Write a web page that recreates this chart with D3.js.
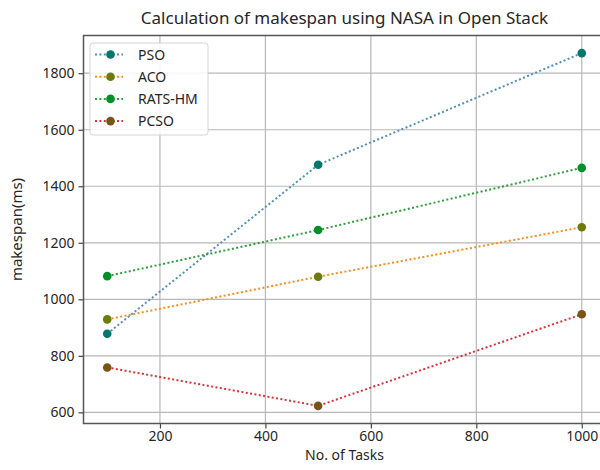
<!DOCTYPE html>
<html>
<head>
<meta charset="utf-8">
<script src="https://cdn.jsdelivr.net/npm/d3@7"></script>
<style>
  html, body { margin: 0; padding: 0; background: #fff; }
  svg { display: block; }
  text { font-family: "Noto Sans", "Open Sans", sans-serif; fill: #262626; }
</style>
</head>
<body>
<svg id="chart" width="600" height="470"></svg>
<script>
// Number of tasks on the x axis
const tasks = [100, 500, 1000];

// Makespan (ms) per algorithm
const pso    = [878, 1476, 1871];
const aco    = [929, 1080, 1255];
const ratsHm = [1082, 1245, 1465];
const pcso   = [759, 623, 947];

const seriesNames  = ["PSO", "ACO", "RATS-HM", "PCSO"];
const lineColors   = ["#4f8fb8", "#ff8c1a", "#2e9e3c", "#e0303a"];
const markerColors = ["#00786c", "#6f7a08", "#00902a", "#7a5416"];

const xTicks = [200, 400, 600, 800, 1000];
const yTicks = [600, 800, 1000, 1200, 1400, 1600, 1800];

const allSeries = [pso, aco, ratsHm, pcso];

const svg = d3.select("#chart");
const plot = { left: 83.5, right: 605.5, top: 35.5, bottom: 423.5 };

// matplotlib-style 5% padding around the data
const xMin = d3.min(tasks), xMax = d3.max(tasks);
const xPad = (xMax - xMin) * 0.05;
const allVals = allSeries.flat();
const yMin = d3.min(allVals), yMax = d3.max(allVals);
const yPad = (yMax - yMin) * 0.05;

const x = d3.scaleLinear().domain([xMin - xPad, xMax + xPad]).range([plot.left, plot.right]);
const y = d3.scaleLinear().domain([yMin - yPad, yMax + yPad]).range([plot.bottom, plot.top]);

// grid
const grid = svg.append("g");
grid.selectAll("line.gx").data(xTicks).join("line")
  .attr("x1", d => x(d)).attr("x2", d => x(d))
  .attr("y1", plot.top).attr("y2", plot.bottom)
  .attr("stroke", "#b8b8b8").attr("stroke-width", 1.2);
grid.selectAll("line.gy").data(yTicks).join("line")
  .attr("y1", d => y(d)).attr("y2", d => y(d))
  .attr("x1", plot.left).attr("x2", plot.right)
  .attr("stroke", "#b8b8b8").attr("stroke-width", 1.2);

// axes
const xAxis = d3.axisBottom(x).tickValues(xTicks).tickSize(5).tickPadding(3).tickFormat(d3.format("d"));
const yAxis = d3.axisLeft(y).tickValues(yTicks).tickSize(5).tickPadding(4).tickFormat(d3.format("d"));

const gx = svg.append("g").attr("transform", `translate(0,${plot.bottom})`).call(xAxis);
const gy = svg.append("g").attr("transform", `translate(${plot.left},0)`).call(yAxis);
[gx, gy].forEach(g => {
  g.select(".domain").remove();
  g.selectAll(".tick line").attr("stroke", "#444").attr("stroke-width", 1.2);
  g.selectAll(".tick text").attr("font-size", 14).attr("fill", "#262626")
    .style("font-family", "'Noto Sans', sans-serif");
});

// spines
svg.append("rect")
  .attr("x", plot.left).attr("y", plot.top)
  .attr("width", plot.right - plot.left).attr("height", plot.bottom - plot.top)
  .attr("fill", "none").attr("stroke", "#555").attr("stroke-width", 1.5);

// series
const line = d3.line().x((d, i) => x(tasks[i])).y(d => y(d));
allSeries.forEach((vals, s) => {
  const g = svg.append("g");
  g.append("path").datum(vals)
    .attr("d", line)
    .attr("fill", "none")
    .attr("stroke", lineColors[s])
    .attr("stroke-width", 2)
    .attr("stroke-dasharray", "2 2.4");
  g.selectAll("circle").data(vals).join("circle")
    .attr("cx", (d, i) => x(tasks[i]))
    .attr("cy", d => y(d))
    .attr("r", 4.3)
    .attr("fill", markerColors[s]);
});

// title and axis labels
svg.append("text")
  .attr("x", (plot.left + plot.right) / 2).attr("y", 24)
  .attr("text-anchor", "middle").attr("font-size", 17)
  .text("Calculation of makespan using NASA in Open Stack");

svg.append("text")
  .attr("x", (plot.left + plot.right) / 2).attr("y", 460)
  .attr("text-anchor", "middle").attr("font-size", 14)
  .text("No. of Tasks");

svg.append("text")
  .attr("transform", `translate(22,${(plot.top + plot.bottom) / 2}) rotate(-90)`)
  .attr("text-anchor", "middle").attr("font-size", 15)
  .text("makespan(ms)");

// legend
const legend = svg.append("g").attr("transform", "translate(90,43)");
legend.append("rect")
  .attr("width", 118).attr("height", 92).attr("rx", 3)
  .attr("fill", "#fff").attr("fill-opacity", 0.85)
  .attr("stroke", "#d4d4d4").attr("stroke-width", 1);
seriesNames.forEach((name, s) => {
  const cy = 11.5 + s * 22.2;
  legend.append("line")
    .attr("x1", 5).attr("x2", 33).attr("y1", cy).attr("y2", cy)
    .attr("stroke", lineColors[s]).attr("stroke-width", 2)
    .attr("stroke-dasharray", "2 2.4");
  legend.append("circle").attr("cx", 20.5).attr("cy", cy).attr("r", 4.3)
    .attr("fill", markerColors[s]);
  legend.append("text").attr("x", 48).attr("y", cy + 5)
    .attr("font-size", 14).text(name);
});
</script>
</body>
</html>
